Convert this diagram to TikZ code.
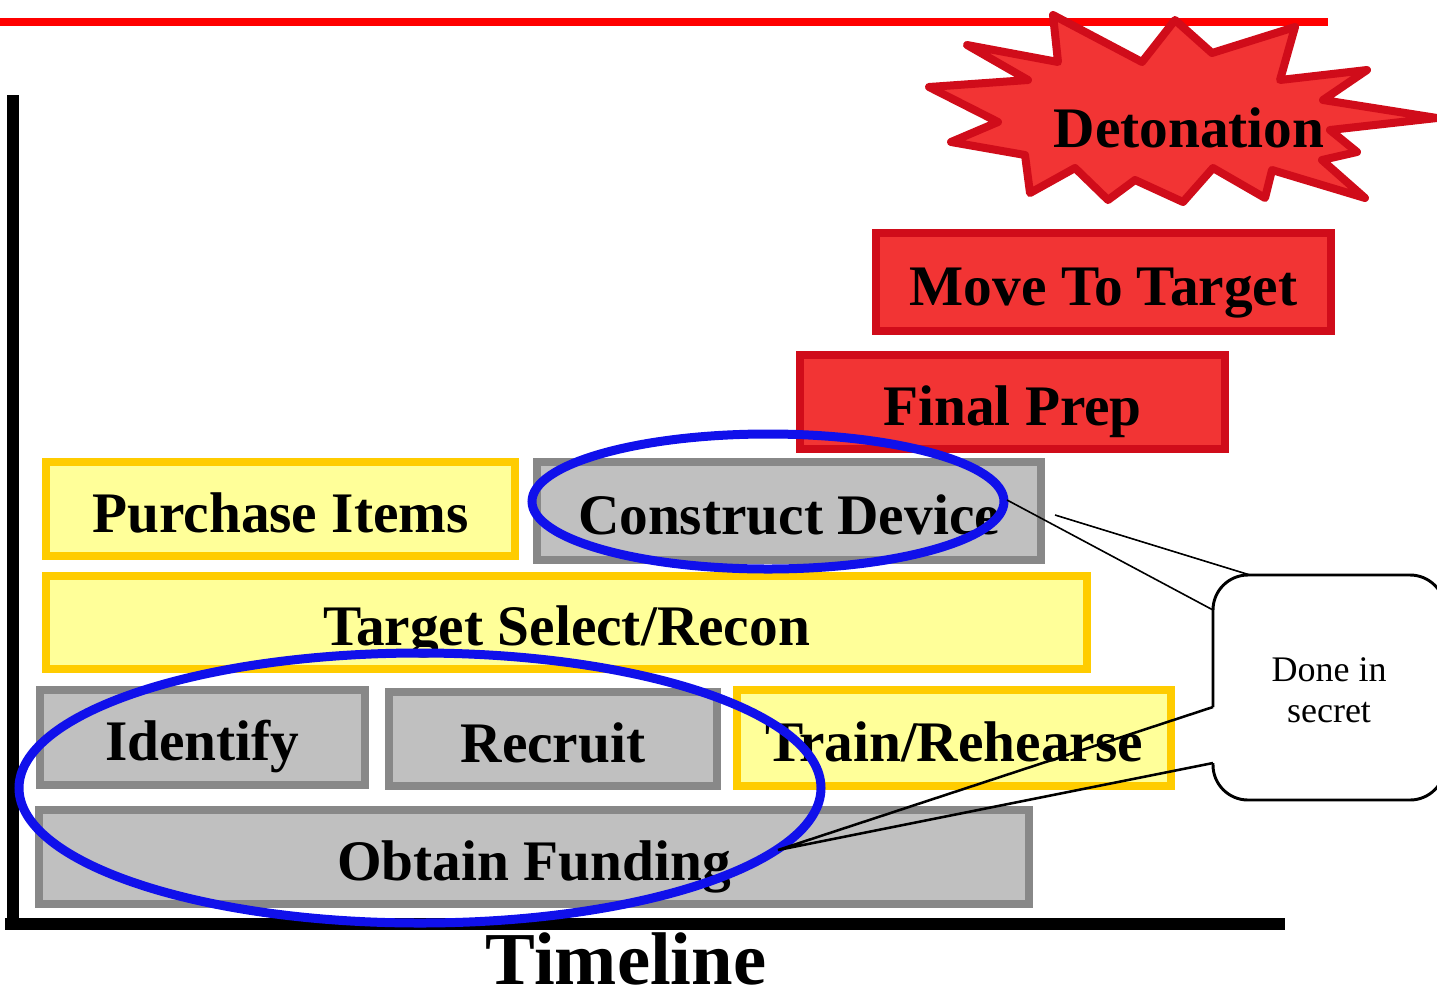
\documentclass[tikz,border=0pt]{standalone}
\usepackage{fontspec}
\setmainfont{Liberation Serif}
\definecolor{boxred}{RGB}{242,52,52}
\definecolor{boxredline}{RGB}{208,12,26}
\definecolor{topred}{RGB}{255,0,0}
\definecolor{boxyellow}{RGB}{255,255,153}
\definecolor{boxyellowline}{RGB}{255,204,0}
\definecolor{boxgray}{RGB}{192,192,192}
\definecolor{boxgrayline}{RGB}{136,136,136}
\definecolor{ellblue}{RGB}{16,16,235}
\begin{document}
\begin{tikzpicture}[x=0.75pt,y=-0.75pt,
  phase/.style={draw, line width=6pt, inner sep=0pt, text height=34.5pt, text depth=0pt,
    font=\fontsize{43}{48}\selectfont\bfseries},
  redphase/.style={phase, fill=boxred, draw=boxredline},
  yellowphase/.style={phase, fill=boxyellow, draw=boxyellowline},
  grayphase/.style={phase, fill=boxgray, draw=boxgrayline},
  focus/.style={draw=ellblue, line width=6.75pt},
  pointer/.style={draw=black, line width=1.2pt},
  pointerthick/.style={draw=black, line width=1.9pt},
  axisline/.style={draw=black, line width=9pt}
]
\useasboundingbox (0,0) rectangle (1437,1000);

% top red line
\draw[topred, line width=6pt] (0,22) -- (1328,22);

% starburst
\draw[fill=boxred, draw=boxredline, line width=6pt, line join=round]
  (967,45) -- (1058,62) -- (1053,15) -- (1142,62) -- (1175,20) -- (1212,53)
  -- (1295,27) -- (1280,80) -- (1367,70) -- (1323,100) -- (1437,118)
  -- (1330,130) -- (1357,152) -- (1322,160) -- (1365,198) -- (1272,170)
  -- (1265,198) -- (1213,168) -- (1183,202) -- (1135,180) -- (1108,200)
  -- (1075,168) -- (1030,193) -- (1025,155) -- (951,142) -- (998,122)
  -- (929,87) -- (1028,80) -- cycle;
\node[font=\fontsize{43}{48}\selectfont\bfseries, anchor=base] (det) at (1189,147) {Detonation};

% axes
\draw[axisline] (13,95) -- (13,929);
\draw[axisline] (5,924) -- (1285,924);

% phase boxes
\node[redphase, minimum width=341.25pt, minimum height=73.5pt] (move) at (1103.5,282) {Move To Target};
\node[redphase, minimum width=318.75pt, minimum height=70.5pt] (final) at (1012.5,402) {Final Prep};
\node[yellowphase, minimum width=351.75pt, minimum height=70.5pt] (purchase) at (280.5,509) {Purchase Items};
\node[grayphase, minimum width=378pt, minimum height=73.5pt] (construct) at (789,511) {Construct Device};
\node[yellowphase, minimum width=780.75pt, minimum height=69.75pt] (target) at (566.5,622.5) {Target Select/Recon};
\node[grayphase, minimum width=243.75pt, minimum height=71.25pt] (identify) at (202.5,737.5) {Identify};
\node[grayphase, minimum width=246pt, minimum height=70.5pt] (recruit) at (553,739) {Recruit};
\node[yellowphase, minimum width=325.5pt, minimum height=72pt] (train) at (954,738) {Train/Rehearse};
\node[grayphase, minimum width=742.5pt, minimum height=70.5pt] (funding) at (534,857) {Obtain Funding};

% blue ellipses
\draw[focus] (768,501.5) ellipse [x radius=236, y radius=67.5];
\draw[focus] (420,788) ellipse [x radius=401, y radius=135];

% callout
\draw[line width=2.2pt, fill=white, rounded corners=26.25pt]
  (1213,707) -- (1213,575) -- (1445,575) -- (1445,800) -- (1213,800) -- (1213,763);
\node[align=center, font=\fontsize{27}{30.75}\selectfont] (secret) at (1329,690) {Done in\\secret};
\coordinate (cA1) at (1250,575);
\coordinate (cA2) at (1213,610);
\coordinate (cB1) at (1213,707);
\coordinate (cB2) at (1213,763);
\coordinate (tipA) at (1055,515);
\coordinate (tipB) at (1007,500);
\coordinate (tipC) at (778,850);
\draw[pointer] (tipA) -- (cA1);
\draw[pointer] (tipB) -- (cA2);
\draw[pointerthick, line join=miter] (cB1) -- (tipC) -- (cB2);

% timeline label
\node[font=\fontsize{56}{60}\selectfont\bfseries, anchor=base, inner sep=0pt] (timeline) at (626,984) {Timeline};
\end{tikzpicture}
\end{document}
